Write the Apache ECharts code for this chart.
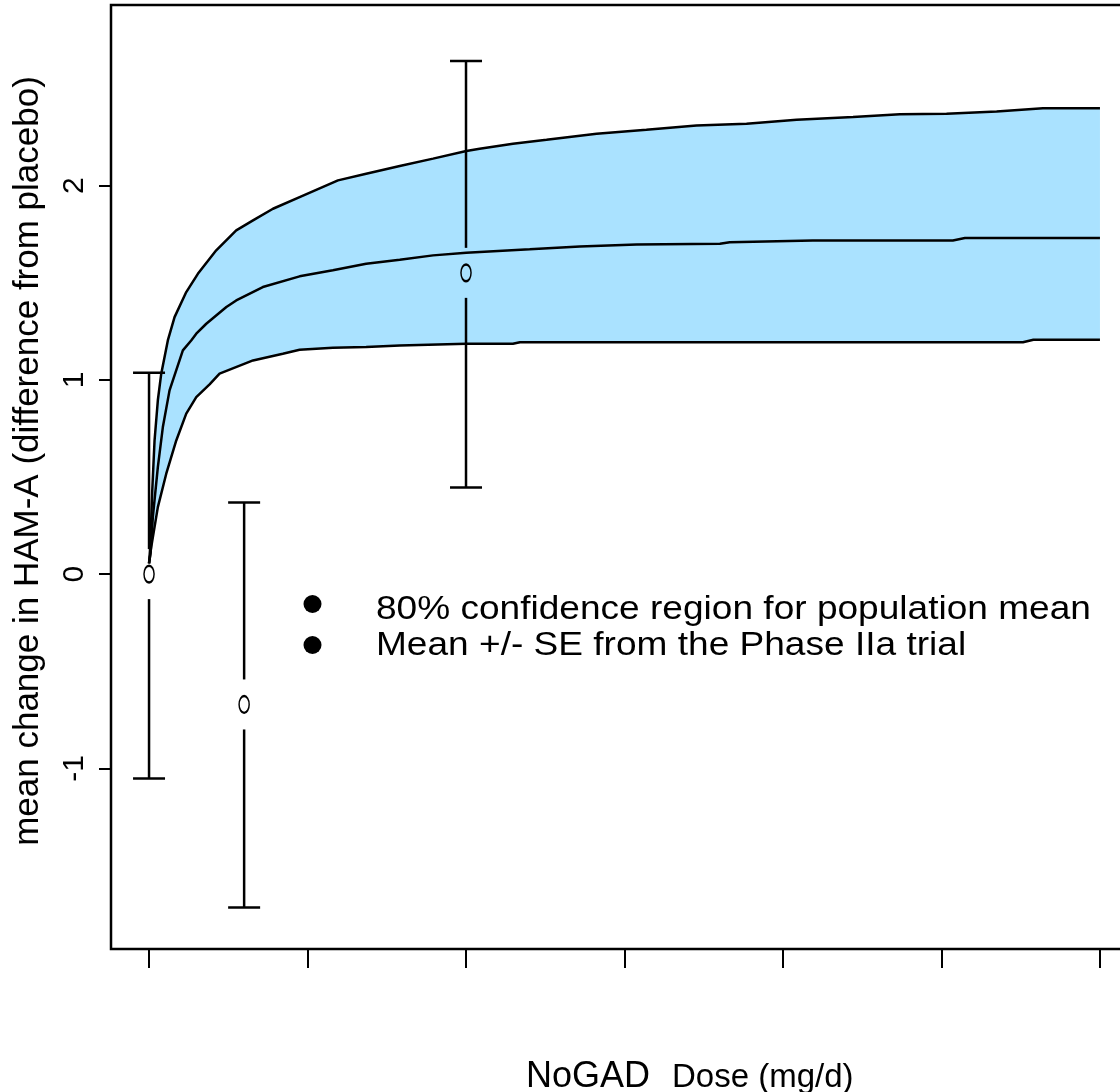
<!DOCTYPE html>
<html>
<head>
<meta charset="utf-8">
<script src="https://cdn.jsdelivr.net/npm/echarts@6/dist/echarts.min.js"></script>
<style>html,body{margin:0;padding:0;background:#fff;overflow:hidden;width:1120px;height:1092px}#c{width:1160px;height:1092px}</style>
</head>
<body>
<div id="c"></div>
<script>
// ---- data ----
const xTicks = [0, 50, 100, 150, 200, 250, 300];
const yTicks = [-1, 0, 1, 2];

const upperCurve = [[0,0.055],[0.38,0.139],[1.01,0.429],[1.74,0.688],[2.78,0.895],[3.85,1.032],[5.93,1.203],[8.05,1.323],[11.74,1.452],[15.4,1.546],[21.2,1.667],[27.5,1.770],[32.8,1.821],[39.1,1.881],[47.5,1.941],[59.6,2.027],[68.5,2.061],[79.1,2.101],[89.6,2.139],[100.1,2.178],[104.3,2.190],[114.8,2.216],[125.4,2.236],[141.2,2.267],[156.9,2.288],[172.7,2.310],[188.5,2.319],[204.3,2.339],[222.1,2.353],[236.9,2.367],[251.6,2.370],[267.4,2.382],[282,2.399],[300,2.399]];

const midCurve = [[0,0.055],[0.47,0.107],[1.2,0.293],[2.78,0.551],[4.36,0.757],[6.47,0.946],[10.67,1.152],[13.3,1.203],[14.9,1.238],[18.06,1.289],[24.4,1.375],[27.5,1.409],[35.9,1.478],[47.5,1.533],[58.0,1.564],[68.5,1.598],[79.1,1.619],[89.6,1.641],[100.1,1.655],[120.1,1.672],[135.9,1.687],[153.8,1.697],[180.1,1.701],[183.2,1.709],[209.4,1.718],[253.6,1.718],[257.4,1.730],[300,1.730]];

const lowerCurve = [[0,0.055],[0.69,0.139],[2.78,0.345],[5.43,0.517],[8.59,0.688],[11.74,0.826],[14.9,0.911],[19.1,0.977],[22.25,1.032],[32.8,1.100],[42.2,1.135],[47.5,1.155],[58,1.166],[68.5,1.169],[79.1,1.177],[100.1,1.186],[114.8,1.186],[117,1.194],[275.7,1.194],[279,1.207],[300,1.207]];

const trialDose = [0, 30, 100];
const trialMean = [0, -0.671, 1.551];
const trialLow  = [-1.052, -1.716, 0.446];
const trialHigh = [1.037, 0.369, 2.642];

const legendLabels = ['80% confidence region for population mean', 'Mean +/- SE from the Phase IIa trial'];
const yTitle = 'mean change in HAM-A (difference from placebo)';
const xTitleA = 'NoGAD';
const xTitleB = 'Dose (mg/d)';

// ---- chart ----
const FONT = '"Liberation Sans", Arial, Helvetica, sans-serif';
const chart = echarts.init(document.getElementById('c'), null, {renderer: 'canvas'});

const trialData = trialDose.map((d, i) => [d, trialMean[i], trialLow[i], trialHigh[i]]);
const lineSeries = (data) => ({
  type: 'line', data: data, showSymbol: false, symbol: 'none', smooth: false,
  lineStyle: {color: '#000', width: 2.5}, z: 3, silent: true, animation: false
});

chart.setOption({
  animation: false,
  backgroundColor: '#fff',
  grid: {left: 111, top: 5, width: 1027, height: 944, show: true, borderColor: '#000', borderWidth: 2.5, backgroundColor: 'transparent'},
  xAxis: {
    type: 'value', min: -12, max: 312,
    axisLine: {show: false, onZero: false}, splitLine: {show: false},
    axisTick: {show: true, length: 19, lineStyle: {color: '#000', width: 2}, customValues: xTicks},
    axisLabel: {show: false}
  },
  yAxis: {
    type: 'value', min: -1.93, max: 2.93,
    axisLine: {show: false, onZero: false}, splitLine: {show: false},
    axisTick: {show: true, length: 12, lineStyle: {color: '#000', width: 2}, customValues: yTicks},
    axisLabel: {show: true, customValues: yTicks, rotate: 90, fontSize: 30, color: '#000', fontFamily: FONT, margin: 21}
  },
  series: [
    {
      type: 'custom', silent: true, z: 1,
      data: [[0, 0]],
      renderItem: function (params, api) {
        const pts = upperCurve.map(p => api.coord(p)).concat(lowerCurve.slice().reverse().map(p => api.coord(p)));
        return {type: 'polygon', shape: {points: pts}, style: {fill: '#AAE2FF', stroke: null}};
      }
    },
    lineSeries(upperCurve),
    lineSeries(midCurve),
    lineSeries(lowerCurve),
    {
      type: 'custom', silent: true, z: 4,
      data: trialData,
      encode: {x: 0, y: 1},
      renderItem: function (params, api) {
        const d = api.value(0), m = api.value(1), lo = api.value(2), hi = api.value(3);
        const pm = api.coord([d, m]), pl = api.coord([d, lo]), ph = api.coord([d, hi]);
        const x = pm[0], gap = 25, cap = 16;
        const st = {stroke: '#000', lineWidth: 2.5};
        return {type: 'group', children: [
          {type: 'line', shape: {x1: x, y1: ph[1], x2: x, y2: pm[1] - gap}, style: st},
          {type: 'line', shape: {x1: x, y1: pm[1] + gap, x2: x, y2: pl[1]}, style: st},
          {type: 'line', shape: {x1: x - cap, y1: ph[1], x2: x + cap, y2: ph[1]}, style: st},
          {type: 'line', shape: {x1: x - cap, y1: pl[1], x2: x + cap, y2: pl[1]}, style: st},
          {type: 'circle', x: x, y: pm[1], scaleX: 0.6, shape: {cx: 0, cy: 0, r: 8.4},
            style: {fill: 'none', stroke: '#000', lineWidth: 2.4, strokeNoScale: true}}
        ]};
      }
    }
  ],
  graphic: [
    {type: 'circle', shape: {cx: 312.5, cy: 604, r: 9}, style: {fill: '#000'}},
    {type: 'circle', shape: {cx: 312.5, cy: 645, r: 9}, style: {fill: '#000'}},
    {type: 'text', x: 376, y: 610, scaleX: 1.09, style: {text: legendLabels[0], fontSize: 34, fontFamily: FONT, fill: '#000', align: 'left', verticalAlign: 'middle'}},
    {type: 'text', x: 376, y: 646, scaleX: 1.09, style: {text: legendLabels[1], fontSize: 34, fontFamily: FONT, fill: '#000', align: 'left', verticalAlign: 'middle'}},
    {type: 'text', x: 28, y: 461, rotation: Math.PI / 2, style: {text: yTitle, fontSize: 35, fontFamily: FONT, fill: '#000', align: 'center', verticalAlign: 'middle'}},
    {type: 'text', x: 526, y: 1077, style: {text: xTitleA, fontSize: 36, fontFamily: FONT, fill: '#000', align: 'left', verticalAlign: 'middle'}},
    {type: 'text', x: 672, y: 1078, style: {text: xTitleB, fontSize: 33, fontFamily: FONT, fill: '#000', align: 'left', verticalAlign: 'middle'}}
  ]
});
</script>
</body>
</html>
